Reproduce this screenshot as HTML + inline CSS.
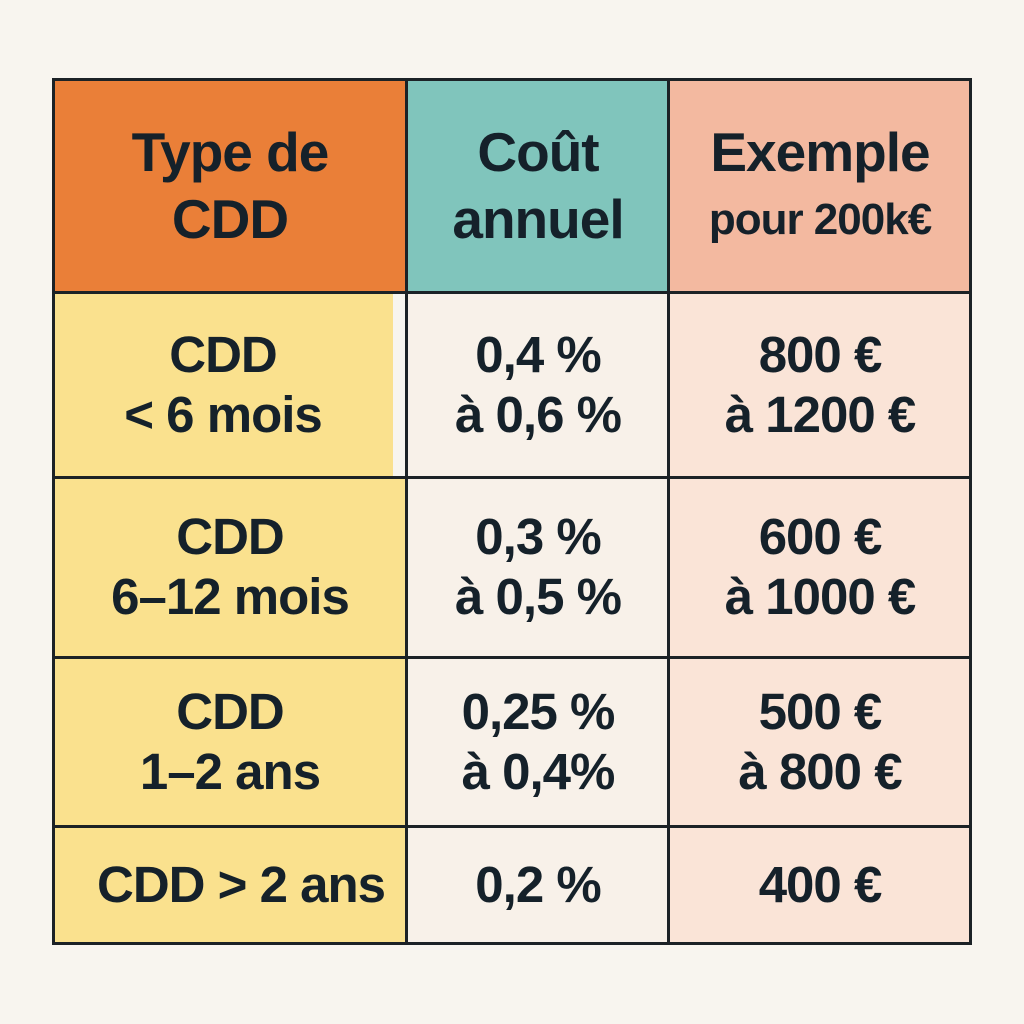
<!DOCTYPE html>
<html><head><meta charset="utf-8"><style>
body{margin:0;width:1024px;height:1024px;background:#f8f5ef;font-family:"Liberation Sans",sans-serif;}
.c{position:absolute;box-sizing:border-box;display:flex;flex-direction:column;align-items:center;justify-content:center;text-align:center;color:#15212a;font-weight:bold;font-size:51px;line-height:60px;letter-spacing:-1px;white-space:nowrap;}
.line{position:absolute;background:#1c2226;}
</style></head><body>
<div style="position:absolute;left:0;top:0;width:1024px;height:1024px;">
<div class="c" style="left:53px;top:79px;width:354px;height:214px;background:#ea7f38;line-height:67px;font-size:55px">Type de<br>CDD</div>
<div class="c" style="left:407px;top:79px;width:262px;height:214px;background:#80c5bc;line-height:67px;font-size:55px">Coût<br>annuel</div>
<div class="c" style="left:669px;top:79px;width:302px;height:214px;background:#f3b9a0;"><span style="font-size:55px;line-height:67px">Exemple</span><span style="font-size:44px;line-height:67px">pour 200k€</span></div>

<div class="c" style="left:53px;top:293px;width:340px;height:184px;background:#fae18e">CDD<br>&lt; 6 mois</div>
<div class="c" style="left:407px;top:293px;width:262px;height:184px;background:#f8f1e9">0,4 %<br>à 0,6 %</div>
<div class="c" style="left:669px;top:293px;width:302px;height:184px;background:#fae4d7">800 €<br>à 1200 €</div>

<div class="c" style="left:53px;top:477px;width:354px;height:180px;background:#fae18e">CDD<br>6–12 mois</div>
<div class="c" style="left:407px;top:477px;width:262px;height:180px;background:#f8f1e9">0,3 %<br>à 0,5 %</div>
<div class="c" style="left:669px;top:477px;width:302px;height:180px;background:#fae4d7">600 €<br>à 1000 €</div>

<div class="c" style="left:53px;top:657px;width:354px;height:169px;background:#fae18e">CDD<br>1–2 ans</div>
<div class="c" style="left:407px;top:657px;width:262px;height:169px;background:#f8f1e9">0,25 %<br>à 0,4%</div>
<div class="c" style="left:669px;top:657px;width:302px;height:169px;background:#fae4d7">500 €<br>à 800 €</div>

<div class="c" style="left:53px;top:826px;width:376px;height:117px;background:#fae18e;clip-path:inset(0 22px 0 0)">CDD &gt; 2 ans</div>
<div class="c" style="left:407px;top:826px;width:262px;height:117px;background:#f8f1e9">0,2 %</div>
<div class="c" style="left:669px;top:826px;width:302px;height:117px;background:#fae4d7">400 €</div>

<div class="line" style="left:52px;top:78px;width:3px;height:867px"></div>
<div class="line" style="left:405px;top:78px;width:3px;height:867px"></div>
<div class="line" style="left:667px;top:78px;width:3px;height:867px"></div>
<div class="line" style="left:969px;top:78px;width:3px;height:867px"></div>
<div class="line" style="left:52px;top:78px;width:920px;height:3px"></div>
<div class="line" style="left:52px;top:291px;width:920px;height:3px"></div>
<div class="line" style="left:52px;top:476px;width:920px;height:3px"></div>
<div class="line" style="left:52px;top:656px;width:920px;height:3px"></div>
<div class="line" style="left:52px;top:825px;width:920px;height:3px"></div>
<div class="line" style="left:52px;top:942px;width:920px;height:3px"></div>
</div>
</body></html>
